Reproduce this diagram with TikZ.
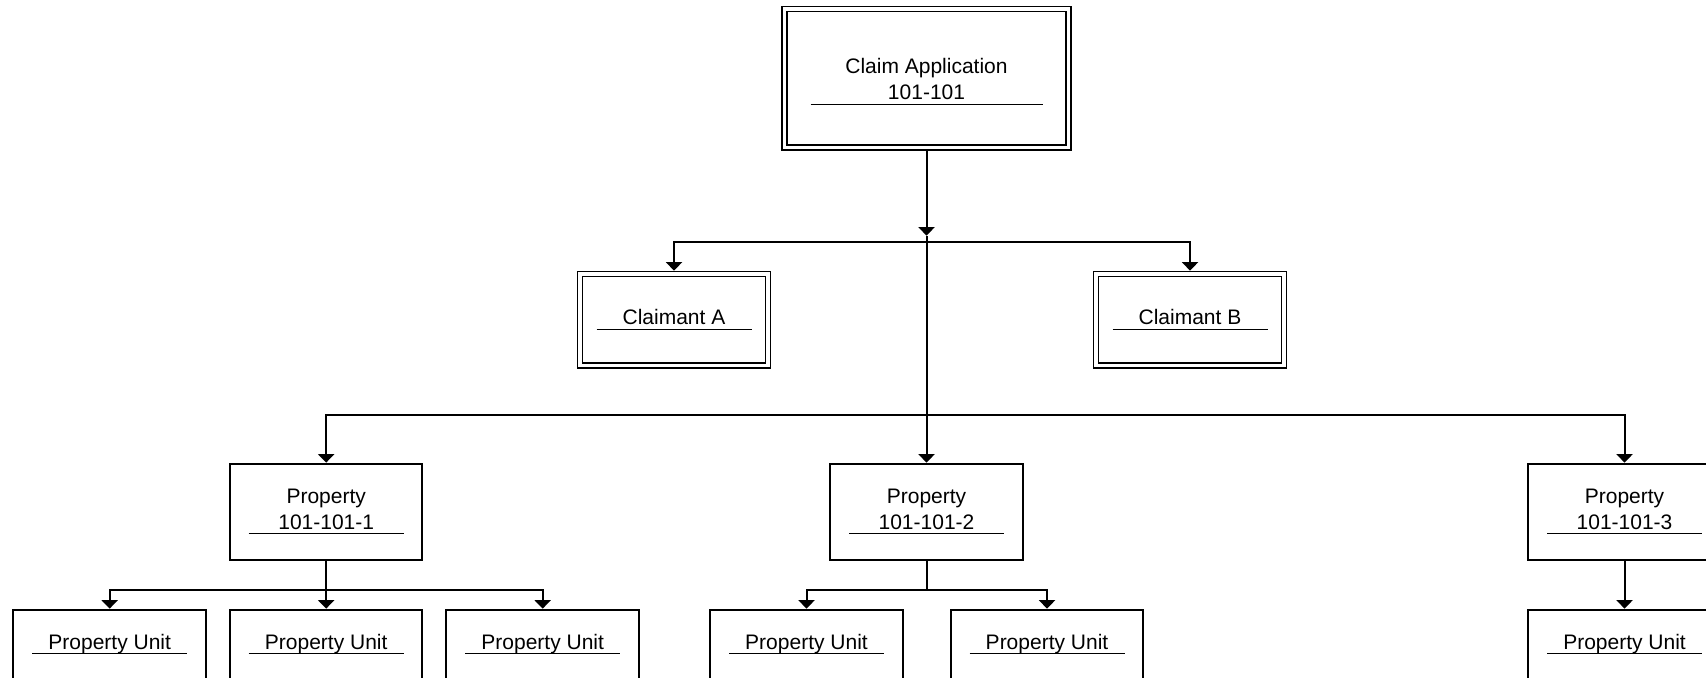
\documentclass[tikz,border=0pt]{standalone}
\usepackage{fontspec}
\setmainfont{Liberation Sans}
\usetikzlibrary{positioning}
\usetikzlibrary{arrows.meta}
\tikzset{>={Triangle[width=8pt,length=4.2pt]}}
\newcommand{\ubar}[1]{\\[-10.45pt]\rule{#1}{0.6pt}}

\begin{document}
\begin{tikzpicture}[font=\fontsize{10.5}{13}\selectfont, line width=1pt, boxnode/.style={draw, align=center, inner sep=0pt, outer sep=0.5pt, minimum width=96.25pt, minimum height=48pt}, unitnode/.style={boxnode, minimum height=34.6pt}, dblnode/.style={draw, double, line width=0.65pt, double distance=1.85pt, align=center, inner sep=0pt, outer sep=1.575pt, minimum width=93.8pt, minimum height=45.85pt}, appnode/.style={dblnode, minimum width=142pt, minimum height=69.25pt}]

    \fill[white, use as bounding box] (0,0) rectangle (853pt,-339pt);

    %Nodes
    \node[appnode](app) at (463.25pt,-39.1pt){\rule{0pt}{11pt}Claim Application\\101-101\ubar{116pt}};

    \node[dblnode](cla)[below=60pt of app, xshift=-126.25pt]{Claimant A\ubar{77.5pt}};
    \node[dblnode](clb)[below=60pt of app, xshift=131.75pt]{Claimant B\ubar{77.5pt}};

    \node[boxnode](prop2)[below=156pt of app]{Property\\101-101-2\ubar{77.5pt}};
    \node[boxnode](prop1)[left=202.9pt of prop2]{Property\\101-101-1\ubar{77.5pt}};
    \node[boxnode](prop3)[right=251.75pt of prop2]{Property\\101-101-3\ubar{77.5pt}};

    \node[unitnode](unit1b)[below=24pt of prop1]{Property Unit\ubar{77.5pt}};
    \node[unitnode](unit1a)[left=11pt of unit1b]{Property Unit\ubar{77.5pt}};
    \node[unitnode](unit1c)[right=11pt of unit1b]{Property Unit\ubar{77.5pt}};
    \node[unitnode](unit2a)[below=24pt of prop2, xshift=-60pt]{Property Unit\ubar{77.5pt}};
    \node[unitnode](unit2b)[below=24pt of prop2, xshift=60.25pt]{Property Unit\ubar{77.5pt}};
    \node[unitnode](unit3)[below=24pt of prop3]{Property Unit\ubar{77.5pt}};

    \coordinate[below=42.5pt of app.south](split);
    \coordinate[below=45.75pt of app.south](claim_bar);
    \coordinate[above=23.75pt of prop2.north](prop_bar);
    \coordinate[below=14.75pt of prop1.south](unit1_bar);
    \coordinate[below=14.75pt of prop2.south](unit2_bar);

    %Lines
    \draw[->] (app.south) -- (split);
    \draw[->] (split) -- (prop2.north);
    \draw[->] (claim_bar) -| (cla.north);
    \draw[->] (claim_bar) -| (clb.north);
    \draw[->] (prop_bar) -| (prop1.north);
    \draw[->] (prop_bar) -| (prop3.north);
    \draw[->] (prop1.south) -- (unit1b.north);
    \draw[->] (unit1_bar) -| (unit1a.north);
    \draw[->] (unit1_bar) -| (unit1c.north);
    \draw (prop2.south) -- (unit2_bar);
    \draw[->] (unit2_bar) -| (unit2a.north);
    \draw[->] (unit2_bar) -| (unit2b.north);
    \draw[->] (prop3.south) -- (unit3.north);

\end{tikzpicture}
\end{document}
